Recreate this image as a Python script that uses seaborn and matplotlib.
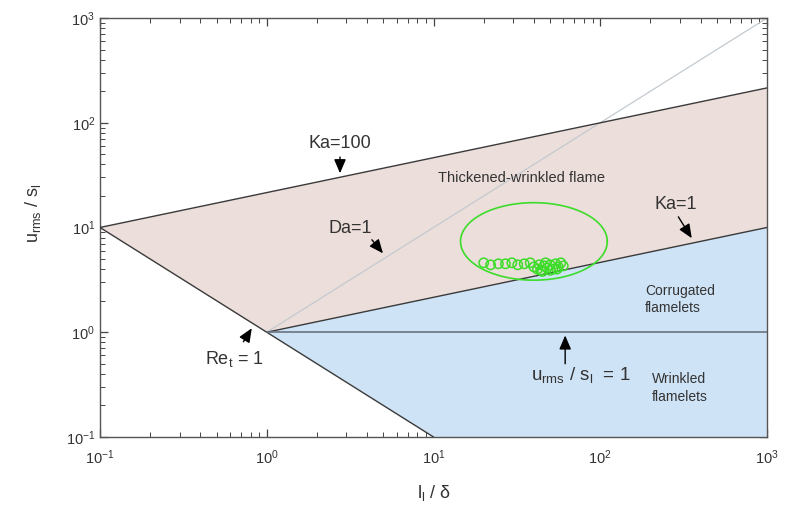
import numpy as np
import pandas as pd
import matplotlib
matplotlib.use("Agg")
import matplotlib.pyplot as plt
from matplotlib.ticker import LogLocator, NullFormatter
import seaborn as sns

# ---- data ----
ka100_x = [0.1, 1000]
ka100_y = [10, 215]
ka1_x = [1, 1000]
ka1_y = [1, 10]
re1_x = [0.1, 10]
re1_y = [10, 0.1]
da1_x = [1, 1000]
da1_y = [1, 1000]
u1_x = [1, 1000]
u1_y = [1, 1]

pink_x = [0.1, 1000, 1000, 1, 0.1]
pink_y = [10, 215, 10, 1, 10]
blue_x = [1, 1000, 1000, 10]
blue_y = [1, 10, 0.1, 0.1]

pts_x = [20, 22, 24.5, 27, 29.5, 32, 35, 38, 40, 42, 44, 46, 48, 50, 52, 54, 56, 58, 60, 45, 50, 55, 43, 47]
pts_y = [4.6, 4.4, 4.5, 4.5, 4.6, 4.4, 4.5, 4.6, 4.2, 4.0, 3.9, 4.3, 4.1, 4.4, 4.0, 4.5, 4.2, 4.6, 4.3, 3.8, 3.9, 4.0, 4.4, 4.6]

# ellipse (in decades): centre and semi-axes
ell_cx, ell_cy = 40.0, 7.36
ell_rx, ell_ry = 0.44, 0.37

xticks = [0.1, 1, 10, 100, 1000]
yticks = [0.1, 1, 10, 100, 1000]

# ---- style ----
sns.set_theme(style="white")
plt.rcParams['font.family'] = ['Liberation Sans', 'DejaVu Sans']
plt.rcParams['mathtext.fontset'] = 'custom'
plt.rcParams['mathtext.rm'] = 'Liberation Sans'
plt.rcParams['mathtext.it'] = 'Liberation Sans'
plt.rcParams['mathtext.default'] = 'regular'

txt = '#333333'
pink = '#ecdeda'
blue = '#cfe3f6'
green = '#3ddc2a'

fig = plt.figure(figsize=(8.01, 5.05), dpi=100)
ax = fig.add_axes([0.1248, 0.1347, 0.8328, 0.8297])
ax.set_xscale('log')
ax.set_yscale('log')

ax.fill(pink_x, pink_y, color=pink, lw=0, zorder=1)
ax.fill(blue_x, blue_y, color=blue, lw=0, zorder=1)

sns.lineplot(x=da1_x, y=da1_y, ax=ax, color='#c3cad0', lw=0.9, zorder=2)
for xs, ys in [(ka100_x, ka100_y), (ka1_x, ka1_y), (re1_x, re1_y)]:
    sns.lineplot(x=xs, y=ys, ax=ax, color='#3a3a3a', lw=1.0, zorder=3)
sns.lineplot(x=u1_x, y=u1_y, ax=ax, color='#6a7480', lw=1.2, zorder=3)

# ellipse
th = np.linspace(0, 2 * np.pi, 300)
ex = 10 ** (np.log10(ell_cx) + ell_rx * np.cos(th))
ey = 10 ** (np.log10(ell_cy) + ell_ry * np.sin(th))
ax.plot(ex, ey, color=green, lw=1.2, zorder=4)

sns.scatterplot(x=pts_x, y=pts_y, ax=ax, marker='o', s=45, facecolor='none',
                edgecolor=green, linewidth=1.1, zorder=5)

ax.set_xlim(0.1, 1000)
ax.set_ylim(0.1, 1000)
ax.set_xticks(xticks)
ax.set_yticks(yticks)
for a in (ax.xaxis, ax.yaxis):
    a.set_minor_locator(LogLocator(base=10, subs=np.arange(2, 10), numticks=20))
    a.set_minor_formatter(NullFormatter())
ax.tick_params(which='both', direction='in', top=True, right=True, bottom=True, left=True,
               colors='#444444', labelcolor=txt, labelsize=10.5)
ax.tick_params(which='major', length=6, width=0.9)
ax.tick_params(which='minor', length=3.5, width=0.7)
ax.tick_params(axis='x', pad=8)
for s in ax.spines.values():
    s.set_color('#555555')
    s.set_linewidth(1.0)

ax.set_xlabel(r'l$_{l}$ / δ', fontsize=13, color=txt)
ax.set_ylabel(r'u$_{rms}$ / s$_{l}$', fontsize=13, color=txt)
ax.xaxis.set_label_coords(0.5, -0.11)
ax.yaxis.set_label_coords(-0.085, 0.535)

ap = dict(arrowstyle='-|>,head_length=0.7,head_width=0.3', color='black', lw=1.0)
ax.annotate('', xy=(2.75, 31), xytext=(2.75, 50), arrowprops=ap, zorder=6)
ax.text(2.75, 53, 'Ka=100', ha='center', va='bottom', fontsize=13, color=txt)

ax.annotate('', xy=(5.1, 5.4), xytext=(4.17, 8.0), arrowprops=ap, zorder=6)
ax.text(3.16, 9.8, 'Da=1', ha='center', va='center', fontsize=13, color=txt)

ax.annotate('', xy=(361, 7.5), xytext=(288, 13.3), arrowprops=ap, zorder=6)
ax.text(285, 16.5, 'Ka=1', ha='center', va='center', fontsize=13, color=txt)

ax.annotate('', xy=(0.83, 1.15), xytext=(0.71, 0.77), arrowprops=ap, zorder=6)
ax.text(0.64, 0.553, r'Re$_{t}$ = 1', ha='center', va='center', fontsize=13, color=txt)

ax.annotate('', xy=(61.6, 0.99), xytext=(61.6, 0.47), arrowprops=ap, zorder=6)
ax.text(76, 0.39, r'u$_{rms}$ / s$_{l}$  = 1', ha='center', va='center', fontsize=13.5, color=txt)

ax.text(33.6, 29.9, 'Thickened-wrinkled flame', ha='center', va='center', fontsize=10.5, color=txt)
ax.text(186, 2.06, 'Corrugated\nflamelets', ha='left', va='center', fontsize=10,
        color=txt, linespacing=1.3)
ax.text(205, 0.293, 'Wrinkled\nflamelets', ha='left', va='center', fontsize=10,
        color=txt, linespacing=1.3)

fig.savefig('out.png', dpi=100)
